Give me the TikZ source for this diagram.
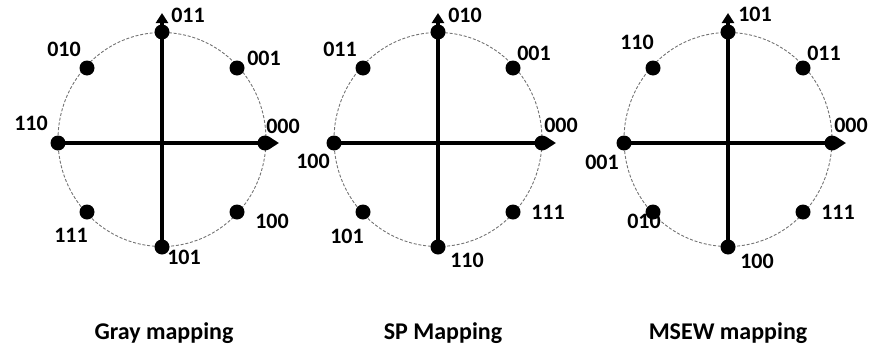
\documentclass[tikz,border=0pt]{standalone}
\usepackage{fontspec}
\setmainfont{Carlito}
\usetikzlibrary{arrows.meta}
\tikzset{
  dot/.style={circle, fill=black, inner sep=0pt, minimum size=15pt},
  ring/.style={draw=black!55, line width=0.9pt, dash pattern=on 3pt off 1.8pt},
  axis/.style={line width=3.2pt, -{Triangle[length=10pt, width=12pt]}},
  bits/.style={font=\fontsize{22}{22}\selectfont\bfseries, inner sep=0pt},
  caption/.style={font=\fontsize{24}{24}\selectfont\bfseries, inner sep=0pt, anchor=base}
}

\begin{document}
\begin{tikzpicture}[x=1pt, y=-1pt]
    \useasboundingbox (0,0) rectangle (870,351);
    % Gray mapping
    \draw[ring] (162,139.5) ellipse [x radius=104, y radius=107];
    \node[dot] (g000) at (265,143) {};
    \node[dot] (g001) at (237,68) {};
    \node[dot] (g011) at (162,32) {};
    \node[dot] (g010) at (87,68) {};
    \node[dot] (g110) at (58,143) {};
    \node[dot] (g111) at (87,212) {};
    \node[dot] (g101) at (162,247) {};
    \node[dot] (g100) at (237,212) {};
    \coordinate (gx) at (279,143);
    \coordinate (gy) at (162,13);
    \draw[axis] (g110.center) -- (gx);
    \draw[axis] (g101.center) -- (gy);
    \node[bits] at (283,126) {000};
    \node[bits] at (264,58) {001};
    \node[bits] at (188,15) {011};
    \node[bits] at (64,49) {010};
    \node[bits] at (31,123) {110};
    \node[bits] at (71,235) {111};
    \node[bits] at (184,257) {101};
    \node[bits] at (272,221) {100};
    \node[caption] (gray) at (164,339) {Gray mapping};
    % SP mapping
    \draw[ring] (438,139.5) ellipse [x radius=104, y radius=107];
    \node[dot] (s000) at (542,143) {};
    \node[dot] (s001) at (513,68) {};
    \node[dot] (s010) at (438,32) {};
    \node[dot] (s011) at (363,68) {};
    \node[dot] (s100) at (334,143) {};
    \node[dot] (s101) at (363,212) {};
    \node[dot] (s110) at (438,247) {};
    \node[dot] (s111) at (513,212) {};
    \coordinate (sx) at (556,143);
    \coordinate (sy) at (438,13);
    \draw[axis] (s100.center) -- (sx);
    \draw[axis] (s110.center) -- (sy);
    \node[bits] at (561,125) {000};
    \node[bits] at (534,53) {001};
    \node[bits] at (465,15) {010};
    \node[bits] at (340,49) {011};
    \node[bits] at (313,161) {100};
    \node[bits] at (347,236) {101};
    \node[bits] at (467,260) {110};
    \node[bits] at (548,212) {111};
    \node[caption] (sp) at (443,339) {SP Mapping};
    % MSEW mapping
    \draw[ring] (728,139.5) ellipse [x radius=104, y radius=107];
    \node[dot] (m000) at (832,143) {};
    \node[dot] (m011) at (803,68) {};
    \node[dot] (m101) at (728,32) {};
    \node[dot] (m110) at (653,68) {};
    \node[dot] (m001) at (624,143) {};
    \node[dot] (m010) at (653,212) {};
    \node[dot] (m100) at (728,247) {};
    \node[dot] (m111) at (803,212) {};
    \coordinate (mx) at (846,143);
    \coordinate (my) at (728,13);
    \draw[axis] (m001.center) -- (mx);
    \draw[axis] (m100.center) -- (my);
    \node[bits] at (851,125) {000};
    \node[bits] at (824,53) {011};
    \node[bits] at (755,14) {101};
    \node[bits] at (637,42) {110};
    \node[bits] at (602,162) {001};
    \node[bits] at (644,221) {010};
    \node[bits] at (757,261) {100};
    \node[bits] at (838,212) {111};
    \node[caption] (msew) at (728,339) {MSEW mapping};
\end{tikzpicture}
\end{document}
